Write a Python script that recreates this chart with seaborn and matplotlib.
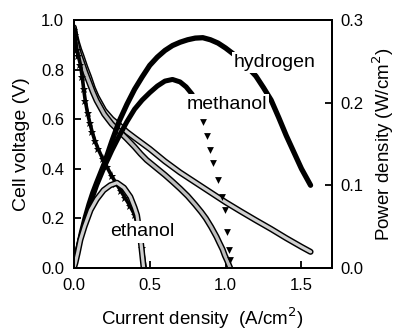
import matplotlib
matplotlib.use("Agg")
import matplotlib.pyplot as plt
import matplotlib.patheffects as pe
import seaborn as sns

# ---- data ----
# cell voltage (V) vs current density (A/cm2)
h2_v_i = [0.0, 0.01, 0.02, 0.035, 0.05, 0.075, 0.10, 0.125, 0.15, 0.20, 0.25,
          0.30, 0.35, 0.40, 0.50, 0.60, 0.70, 0.80, 0.90, 1.00, 1.10, 1.20,
          1.30, 1.40, 1.50, 1.56]
h2_v = [0.97, 0.935, 0.91, 0.88, 0.855, 0.81, 0.77, 0.725, 0.69, 0.635, 0.60,
        0.575, 0.548, 0.525, 0.48, 0.43, 0.385, 0.345, 0.305, 0.265, 0.228,
        0.192, 0.157, 0.12, 0.085, 0.065]

meoh_v_i = [0.0, 0.01, 0.02, 0.035, 0.05, 0.075, 0.10, 0.125, 0.15, 0.20, 0.25,
            0.30, 0.35, 0.40, 0.44, 0.48, 0.54, 0.60, 0.65, 0.70, 0.75, 0.80,
            0.84, 0.87, 0.905, 0.94, 0.96, 0.98, 0.995, 1.01, 1.03]
meoh_v = [0.96, 0.925, 0.895, 0.86, 0.835, 0.79, 0.75, 0.71, 0.675, 0.62, 0.58,
          0.55, 0.52, 0.488, 0.46, 0.435, 0.405, 0.375, 0.348, 0.32, 0.29,
          0.255, 0.225, 0.20, 0.165, 0.126, 0.10, 0.075, 0.05, 0.03, 0.0]

etoh_v_i = [0.0, 0.005, 0.01, 0.02, 0.03, 0.043, 0.055, 0.065, 0.075, 0.09,
            0.105, 0.12, 0.14, 0.16, 0.19, 0.22, 0.25, 0.28, 0.31, 0.34, 0.37,
            0.40, 0.43, 0.45, 0.47]
etoh_v = [0.96, 0.94, 0.92, 0.88, 0.855, 0.82, 0.77, 0.72, 0.675, 0.625, 0.585,
          0.55, 0.51, 0.48, 0.44, 0.405, 0.37, 0.34, 0.31, 0.28, 0.25,
          0.215, 0.15, 0.08, 0.0]

# power density (W/cm2)
h2_p_i = [0.0, 0.025, 0.05, 0.075, 0.10, 0.125, 0.15, 0.20, 0.25, 0.30, 0.35,
          0.40, 0.45, 0.50, 0.55, 0.60, 0.65, 0.70, 0.75, 0.80, 0.85, 0.90,
          0.95, 1.00, 1.05, 1.10, 1.15, 1.20, 1.25, 1.30, 1.35, 1.40, 1.45,
          1.50, 1.56]
h2_p = [0.0, 0.022, 0.043, 0.061, 0.077, 0.091, 0.103, 0.126, 0.153, 0.178,
        0.198, 0.216, 0.231, 0.245, 0.255, 0.263, 0.269, 0.273, 0.276, 0.278,
        0.2785, 0.276, 0.272, 0.266, 0.259, 0.251, 0.242, 0.232, 0.218, 0.203,
        0.182, 0.160, 0.140, 0.120, 0.100]

meoh_p_i = [0.0, 0.025, 0.05, 0.075, 0.10, 0.125, 0.15, 0.20, 0.25, 0.30, 0.35,
            0.40, 0.45, 0.50, 0.55, 0.60, 0.65, 0.70, 0.74, 0.78]
meoh_p = [0.0, 0.022, 0.041, 0.058, 0.073, 0.087, 0.10, 0.122, 0.142, 0.160,
          0.177, 0.192, 0.203, 0.212, 0.220, 0.226, 0.228, 0.225, 0.219, 0.210]
meoh_tail_i = [0.854, 0.876, 0.898, 0.92, 0.953, 0.975, 0.997, 1.008, 1.025, 1.03]
meoh_tail_p = [0.177, 0.159, 0.143, 0.127, 0.106, 0.086, 0.070, 0.044, 0.022, 0.01]

etoh_p_i = [0.0, 0.01, 0.025, 0.043, 0.07, 0.11, 0.15, 0.196, 0.24, 0.284,
            0.33, 0.372, 0.40, 0.416, 0.44, 0.46]
etoh_p = [0.0, 0.006, 0.018, 0.034, 0.050, 0.070, 0.083, 0.094, 0.100, 0.103,
          0.097, 0.086, 0.073, 0.064, 0.034, 0.0]

labels = ["hydrogen", "methanol", "ethanol"]

sns.set_style("ticks")
plt.rcParams['font.family'] = ['Liberation Sans', 'DejaVu Sans']
plt.rcParams.update({"text.color": "black", "axes.labelcolor": "black",
                     "xtick.color": "black", "ytick.color": "black"})

fig = plt.figure(figsize=(3.95, 3.32), dpi=100)
ax = fig.add_axes([0.187, 0.193, 0.653, 0.747])
ax2 = ax.twinx()

# open-symbol strings look like a hollow band
band = [pe.Stroke(linewidth=4.4, foreground="black"), pe.Normal()]
sns.lineplot(x=h2_v_i, y=h2_v, ax=ax, color="#d0d0d0", linewidth=2.3,
             path_effects=band, solid_capstyle="round")
sns.lineplot(x=meoh_v_i, y=meoh_v, ax=ax, color="#bdbdbd", linewidth=2.3,
             path_effects=band, solid_capstyle="round")
sns.lineplot(x=etoh_v_i, y=etoh_v, ax=ax, color="black", linewidth=2.6,
             marker="*", markersize=6.5, markeredgewidth=0,
             solid_capstyle="round")

sns.lineplot(x=h2_p_i, y=h2_p, ax=ax2, color="black", linewidth=3.8,
             solid_capstyle="round")
sns.lineplot(x=meoh_p_i, y=meoh_p, ax=ax2, color="black", linewidth=3.6,
             solid_capstyle="round")
sns.scatterplot(x=meoh_tail_i, y=meoh_tail_p, ax=ax2, color="black", marker="v",
                s=24, linewidth=0)
sns.lineplot(x=etoh_p_i, y=etoh_p, ax=ax2, color="#d0d0d0", linewidth=2.3,
             path_effects=band, solid_capstyle="round")

ax.set_xlim(0, 1.7)
ax.set_ylim(0, 1.0)
ax2.set_ylim(0, 0.3)
ax.set_xticks([0.0, 0.5, 1.0, 1.5])
ax.set_xticklabels(["0.0", "0.5", "1.0", "1.5"])
ax.set_yticks([0.0, 0.2, 0.4, 0.6, 0.8, 1.0])
ax.set_yticklabels(["0.0", "0.2", "0.4", "0.6", "0.8", "1.0"])
ax2.set_yticks([0.0, 0.1, 0.2, 0.3])
ax2.set_yticklabels(["0.0", "0.1", "0.2", "0.3"])

for a in (ax, ax2):
    for s in a.spines.values():
        s.set_visible(True)
        s.set_linewidth(1.4)
        s.set_color("black")
ax.tick_params(axis="both", direction="in", length=5, width=1.3, labelsize=12,
               pad=7, top=False, right=False)
ax2.tick_params(axis="y", direction="in", length=5, width=1.3, labelsize=12, pad=6)

ax.set_xlabel("Current density  (A/cm$^2$)", fontsize=13.5, labelpad=9)
ax.set_ylabel("Cell voltage (V)", fontsize=14, labelpad=8)
ax2.set_ylabel("Power density (W/cm$^2$)", fontsize=13.5, labelpad=5)

txt = dict(fontsize=14, ha="center", va="center", zorder=10,
           transform=ax.transData,
           bbox=dict(facecolor="white", edgecolor="none", pad=1.5))
ax2.text(1.326, 0.827, labels[0], **txt)
ax2.text(1.01, 0.657, labels[1], **txt)
ax2.text(0.45, 0.145, labels[2], **txt)

fig.savefig("out.png", dpi=100)
